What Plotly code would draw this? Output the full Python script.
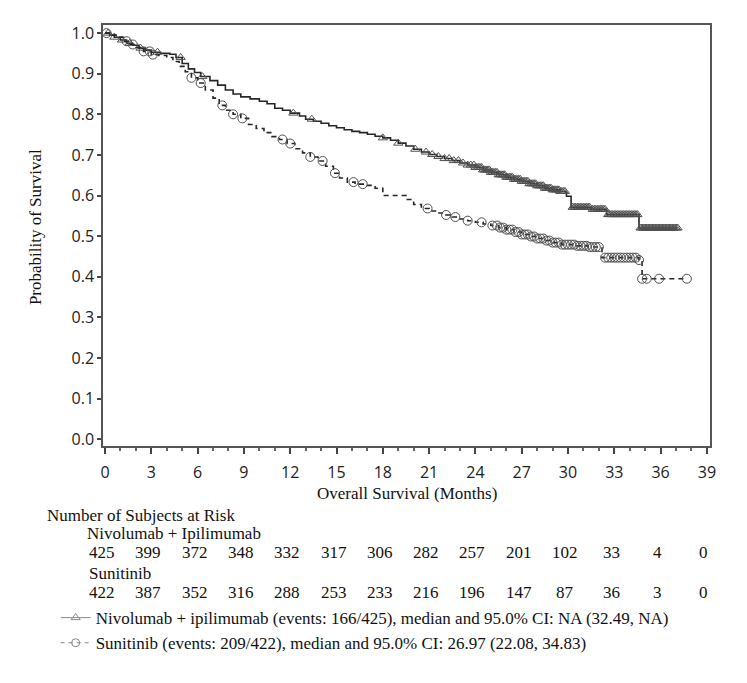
import bisect
import plotly.graph_objects as go

# ---------------- data ----------------
nivo_time = [0, 0.3, 0.6, 1.0, 1.4, 1.8, 2.2, 2.6, 3.0, 3.6, 4.2, 4.6, 5.0, 5.4, 5.8, 6.2, 6.8, 7.3, 7.8,
             8.3, 8.8, 9.4, 10.0, 10.5, 11.0, 11.5, 12.0, 12.6, 13.0, 13.5, 14.0, 14.5, 15.0, 15.5, 16.0,
             16.5, 17.0, 17.5, 18.0, 18.5, 19.0, 19.5, 20.0, 20.5, 21.0, 21.5, 22.0, 22.5, 23.0, 23.5,
             24.0, 24.5, 25.0, 25.5, 26.0, 26.5, 27.0, 27.5, 28.0, 28.5, 29.0, 29.5, 29.9, 30.2, 31.5,
             32.5, 34.6, 37.1]
nivo_surv = [1.0, 0.995, 0.99, 0.983, 0.975, 0.97, 0.963, 0.958, 0.953, 0.95, 0.948, 0.94, 0.925, 0.912,
             0.903, 0.893, 0.883, 0.872, 0.86, 0.85, 0.843, 0.838, 0.832, 0.826, 0.815, 0.81, 0.803,
             0.796, 0.788, 0.783, 0.778, 0.772, 0.767, 0.762, 0.758, 0.755, 0.751, 0.746, 0.742, 0.736,
             0.729, 0.722, 0.714, 0.707, 0.701, 0.696, 0.691, 0.686, 0.68, 0.675, 0.669, 0.663, 0.657,
             0.651, 0.645, 0.64, 0.635, 0.629, 0.624, 0.618, 0.614, 0.61, 0.598, 0.571, 0.566, 0.553,
             0.52, 0.52]
nivo_censor = [0.2, 0.6, 1.1, 1.6, 2.3, 3.4, 4.9, 6.3, 12.2, 13.4, 18.0, 19.0, 20.1, 20.8, 21.2, 21.6,
               22.0, 22.3, 22.6, 22.9, 23.2, 23.5, 23.7, 23.9, 24.0, 24.1, 24.2, 24.3, 24.4, 24.5, 24.6,
               24.7, 24.8, 24.9, 25.0, 25.1, 25.2, 25.3, 25.4, 25.5, 25.6, 25.7, 25.8, 25.9, 26.0, 26.1,
               26.2, 26.3, 26.4, 26.5, 26.6, 26.7, 26.8, 26.9, 27.0, 27.1, 27.2, 27.3, 27.4, 27.5, 27.6,
               27.7, 27.8, 27.9, 28.0, 28.1, 28.2, 28.3, 28.4, 28.5, 28.6, 28.7, 28.8, 28.9, 29.0, 29.1,
               29.2, 29.3, 29.4, 29.5, 29.6, 29.7, 29.8, 30.3, 30.4, 30.5, 30.6, 30.7, 30.8, 30.9, 31.0,
               31.1, 31.2, 31.3, 31.4, 31.6, 31.7, 31.8, 31.9, 32.0, 32.1, 32.2, 32.3, 32.4, 32.6, 32.7,
               32.8, 32.9, 33.0, 33.1, 33.2, 33.3, 33.4, 33.5, 33.6, 33.7, 33.8, 33.9, 34.0, 34.1, 34.2,
               34.3, 34.4, 34.5, 34.7, 34.8, 34.9, 35.0, 35.1, 35.2, 35.3, 35.4, 35.5, 35.6, 35.7, 35.8,
               35.9, 36.0, 36.1, 36.2, 36.3, 36.4, 36.5, 36.6, 36.7, 36.8, 36.9, 37.0, 37.1]

sun_time = [0, 0.4, 0.8, 1.2, 1.6, 2.0, 2.5, 3.0, 3.5, 4.0, 4.4, 4.8, 5.2, 5.6, 6.0, 6.5, 7.0, 7.4, 7.8,
            8.3, 8.8, 9.3, 9.8, 10.3, 10.8, 11.3, 11.8, 12.3, 12.8, 13.3, 13.8, 14.3, 14.8, 15.2, 15.7,
            16.2, 17.0, 17.5, 18.0, 19.5, 20.0, 20.5, 21.0, 21.5, 22.0, 22.5, 23.0, 23.5, 24.0, 24.5,
            25.0, 25.5, 26.0, 26.5, 27.0, 27.5, 28.0, 28.5, 29.0, 29.6, 30.5, 31.3, 32.2, 34.6, 34.8, 37.7]
sun_surv = [1.0, 0.995, 0.99, 0.98, 0.972, 0.965, 0.955, 0.947, 0.945, 0.94, 0.93, 0.918, 0.905, 0.89,
            0.877, 0.86, 0.84, 0.822, 0.81, 0.8, 0.79, 0.775, 0.765, 0.755, 0.745, 0.738, 0.728, 0.715,
            0.705, 0.695, 0.685, 0.672, 0.655, 0.643, 0.633, 0.628, 0.625, 0.618, 0.6, 0.59, 0.578,
            0.568, 0.562, 0.557, 0.552, 0.547, 0.542, 0.538, 0.534, 0.53, 0.526, 0.521, 0.516, 0.51,
            0.504, 0.499, 0.494, 0.489, 0.484, 0.479, 0.476, 0.473, 0.447, 0.441, 0.395, 0.395]
sun_censor = [0.1, 1.4, 1.8, 2.5, 2.9, 3.1, 5.6, 6.2, 7.6, 8.3, 8.9, 11.5, 12.0, 13.3, 14.1, 14.9, 16.1,
              16.7, 20.9, 22.1, 22.7, 23.5, 24.4, 25.1, 25.4, 25.6, 25.8, 26.0, 26.2, 26.4, 26.6, 26.8,
              27.0, 27.2, 27.4, 27.6, 27.8, 28.0, 28.2, 28.4, 28.6, 28.8, 29.0, 29.2, 29.4, 29.6, 29.8,
              30.0, 30.2, 30.4, 30.6, 30.8, 31.0, 31.2, 31.4, 31.6, 31.8, 32.0, 32.4, 32.6, 32.8, 33.0,
              33.2, 33.4, 33.6, 33.8, 34.0, 34.2, 34.4, 34.6, 34.8, 35.1, 35.9, 37.7]

risk_times = [0, 3, 6, 9, 12, 15, 18, 21, 24, 27, 30, 33, 36, 39]
risk_nivo = [425, 399, 372, 348, 332, 317, 306, 282, 257, 201, 102, 33, 4, 0]
risk_sun = [422, 387, 352, 316, 288, 253, 233, 216, 196, 147, 87, 36, 3, 0]

x_ticks = [0, 3, 6, 9, 12, 15, 18, 21, 24, 27, 30, 33, 36, 39]
y_ticks = [0.0, 0.1, 0.2, 0.3, 0.4, 0.5, 0.6, 0.7, 0.8, 0.9, 1.0]

nivo_label = "Nivolumab + ipilimumab (events: 166/425), median and 95.0% CI: NA (32.49, NA)"
sun_label = "Sunitinib (events: 209/422), median and 95.0% CI: 26.97 (22.08, 34.83)"


def step_value(times, surv, t):
    i = bisect.bisect_right(times, t) - 1
    return surv[max(i, 0)]


nivo_censor_y = [step_value(nivo_time, nivo_surv, t) for t in nivo_censor]
sun_censor_y = [step_value(sun_time, sun_surv, t) for t in sun_censor]

LINE = "#262626"
MARK = "#505050"
SERIF = "Liberation Serif, Times New Roman, serif"
SANS = "Open Sans, Noto Sans, sans-serif"
TXT = dict(family=SERIF, size=17, color="#111")

fig = go.Figure()

fig.add_trace(go.Scatter(x=nivo_time, y=nivo_surv, mode="lines", line=dict(color=LINE, width=1.6, shape="hv"),
                         showlegend=False, hoverinfo="skip"))
fig.add_trace(go.Scatter(x=nivo_censor, y=nivo_censor_y, mode="markers",
                         marker=dict(symbol="triangle-up-open", size=8, color=MARK, line=dict(width=1)),
                         showlegend=False))
fig.add_trace(go.Scatter(x=sun_time, y=sun_surv, mode="lines",
                         line=dict(color=LINE, width=1.6, shape="hv", dash="5px,4px"),
                         showlegend=False, hoverinfo="skip"))
fig.add_trace(go.Scatter(x=sun_censor, y=sun_censor_y, mode="markers",
                         marker=dict(symbol="circle-open", size=9, color=MARK, line=dict(width=1)),
                         showlegend=False))

# legend-only entries
fig.add_trace(go.Scatter(x=[None], y=[None], mode="lines+markers", name=nivo_label, legendgroup="a",
                         line=dict(color="#888", width=1),
                         marker=dict(symbol="triangle-up-open", size=8, color="#888")))
fig.add_trace(go.Scatter(x=[None], y=[None], mode="lines+markers", name=sun_label, legendgroup="b",
                         line=dict(color="#888", width=1, dash="4px,4px"),
                         marker=dict(symbol="circle-open", size=8, color="#888")))

# plot area: 607 x 421 px; paper coords relative to it
annotations = []
annotations.append(dict(text="Overall Survival (Months)", xref="paper", yref="paper", x=0.5, y=-0.112,
                        xanchor="center", yanchor="middle", showarrow=False, font=TXT))
annotations.append(dict(text="Probability of Survival", xref="paper", yref="paper", x=-0.112, y=0.52,
                        xanchor="center", yanchor="middle", textangle=-90, showarrow=False, font=TXT))
annotations.append(dict(text="Number of Subjects at Risk", xref="paper", yref="paper", x=-0.096,
                        y=-0.164, xanchor="left", yanchor="middle", showarrow=False, font=TXT))
annotations.append(dict(text="Nivolumab + Ipilimumab", xref="paper", yref="paper", x=-0.03,
                        y=-0.207, xanchor="left", yanchor="middle", showarrow=False, font=TXT))
annotations.append(dict(text="Sunitinib", xref="paper", yref="paper", x=-0.027,
                        y=-0.302, xanchor="left", yanchor="middle", showarrow=False, font=TXT))
for t, n in zip(risk_times, risk_nivo):
    annotations.append(dict(text=str(n), xref="x", yref="paper", x=t, y=-0.252, xanchor="center",
                            yanchor="middle", showarrow=False, xshift=-3, font=TXT))
for t, n in zip(risk_times, risk_sun):
    annotations.append(dict(text=str(n), xref="x", yref="paper", x=t, y=-0.347, xanchor="center",
                            yanchor="middle", showarrow=False, xshift=-3, font=TXT))

fig.update_layout(
    width=739, height=675,
    margin=dict(l=95, r=37, t=17, b=237),
    paper_bgcolor="white", plot_bgcolor="white",
    annotations=annotations,
    showlegend=True,
    legend=dict(x=-0.078, y=-0.366, xanchor="left", yanchor="top", traceorder="grouped",
                tracegroupgap=0, bgcolor="rgba(0,0,0,0)", font=TXT),
    xaxis=dict(range=[-0.13, 39.2], tickvals=x_ticks, ticktext=[str(v) for v in x_ticks],
               showgrid=False, zeroline=False, showline=True, linecolor="#555", linewidth=1.5,
               mirror=True, ticks="outside", ticklen=6, tickcolor="#444", tickwidth=1.5,
               ticklabelstandoff=5,
               minor=dict(dtick=1, tick0=0, ticks="outside", ticklen=3, tickcolor="#666"),
               tickfont=dict(family=SANS, size=16, color="#222")),
    yaxis=dict(range=[-0.017, 1.02], tickvals=y_ticks, ticktext=[f"{v:.1f}" for v in y_ticks],
               showgrid=False, zeroline=False, showline=True, linecolor="#555", linewidth=1.5,
               mirror=True, ticks="outside", ticklen=4, tickcolor="#444", tickwidth=1.5,
               tickfont=dict(family=SANS, size=16, color="#222")),
)

fig.write_html("out.html")
